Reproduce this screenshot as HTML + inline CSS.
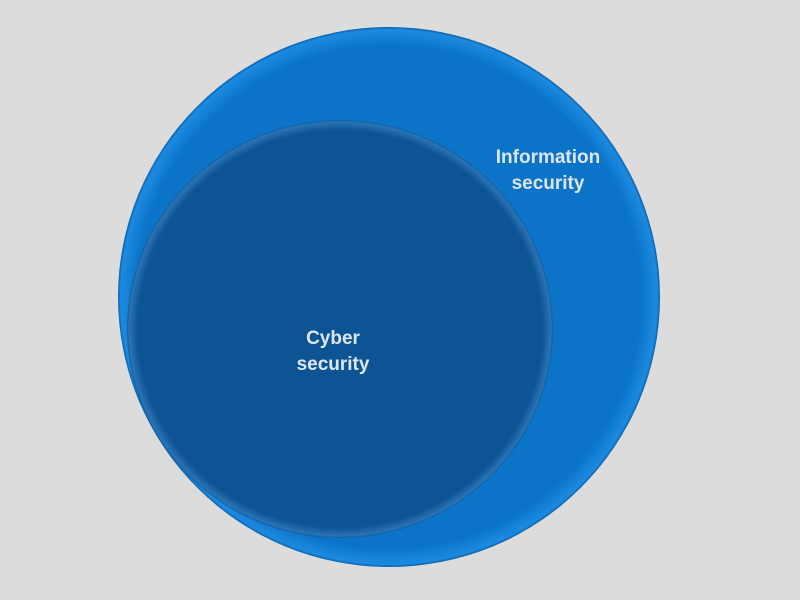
<!DOCTYPE html>
<html><head><style>
html,body{margin:0;padding:0;background:#dcdcdc;width:800px;height:600px;overflow:hidden}
</style></head><body>
<svg width="800" height="600" xmlns="http://www.w3.org/2000/svg">
<defs>
<radialGradient id="g1" cx="0.5" cy="0.5" r="0.5">
<stop offset="0.93" stop-color="#0b74c9"/>
<stop offset="0.99" stop-color="#1c8ae0"/>
<stop offset="1" stop-color="#0a5fa8"/>
</radialGradient>
<radialGradient id="g2" cx="0.5" cy="0.5" r="0.5">
<stop offset="0.95" stop-color="#0d5495"/>
<stop offset="0.99" stop-color="#2a73b4"/>
<stop offset="1" stop-color="#0f5da0"/>
</radialGradient>
</defs>
<rect width="800" height="600" fill="#dcdcdc"/>
<ellipse cx="389" cy="297" rx="271" ry="270" fill="url(#g1)"/>
<ellipse cx="340" cy="329" rx="213" ry="209" fill="url(#g2)"/>
<g font-family="Liberation Sans, sans-serif" font-weight="bold" font-size="19" fill="#dde6f0" text-anchor="middle">
<text x="548" y="163">Information</text>
<text x="548" y="189">security</text>
<text x="333" y="344">Cyber</text>
<text x="333" y="370">security</text>
</g>
</svg>
</body></html>
